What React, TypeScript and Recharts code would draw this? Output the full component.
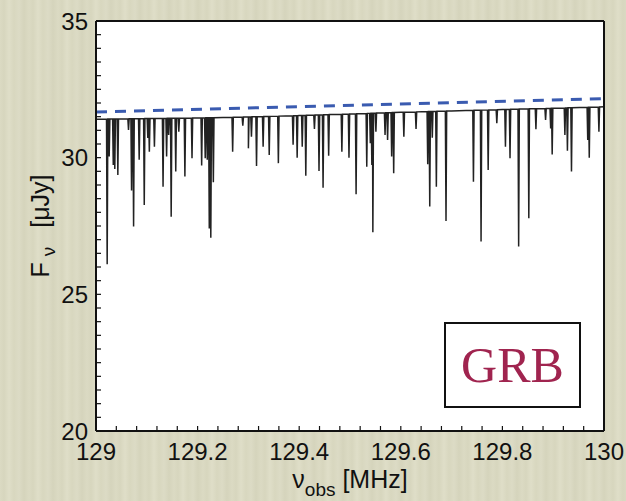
import { LineChart, Line, XAxis, YAxis, CartesianGrid, ReferenceLine } from 'recharts';

// continuum level of the spectrum (MHz, μJy)
const CONT_FREQ = [129, 129.1, 129.2, 129.3, 129.4, 129.5, 129.6, 129.7, 129.8, 129.9, 130];
const CONT_FLUX = [31.41, 31.43, 31.45, 31.49, 31.54, 31.6, 31.66, 31.71, 31.76, 31.81, 31.86];

// absorption line centres and the flux at the bottom of each dip
const LINE_FREQ = [
  129.022, 129.026, 129.034, 129.037, 129.043, 129.064, 129.07, 129.074, 129.085, 129.095,
  129.102, 129.105, 129.115, 129.132, 129.139, 129.143, 129.148, 129.157, 129.163, 129.175,
  129.189, 129.208, 129.215, 129.219, 129.223, 129.226, 129.231, 129.269, 129.289, 129.3,
  129.306, 129.316, 129.329, 129.341, 129.359, 129.388, 129.396, 129.406, 129.413, 129.43,
  129.439, 129.447, 129.458, 129.484, 129.498, 129.512, 129.533, 129.54, 129.543, 129.545,
  129.551, 129.569, 129.574, 129.582, 129.586, 129.606, 129.63, 129.653, 129.657, 129.662,
  129.67, 129.689, 129.743, 129.758, 129.772, 129.789, 129.806, 129.815, 129.832, 129.852,
  129.866, 129.885, 129.895, 129.898, 129.923, 129.928, 129.936, 129.968, 129.971, 129.99,
];
const LINE_FLUX = [
  26.1, 30.04, 29.73, 29.59, 29.37, 31.01, 28.8, 27.48, 29.92, 28.27,
  30.72, 30.22, 30.4, 28.94, 30.04, 30.83, 27.84, 29.49, 30.95, 29.31,
  29.98, 29.71, 29.98, 29.92, 27.41, 27.07, 29.1, 30.22, 31.17, 30.34,
  30.77, 29.7, 30.4, 30.1, 29.8, 30.47, 30.0, 30.4, 29.34, 31.05,
  29.51, 28.9, 30.07, 30.22, 30.0, 28.66, 29.67, 30.53, 29.73, 27.27,
  30.95, 30.83, 30.65, 30.04, 29.43, 30.77, 31.05, 29.76, 28.21, 30.73,
  28.94, 27.68, 29.12, 26.93, 29.55, 31.26, 30.4, 29.98, 26.75, 27.78,
  31.04, 31.38, 31.07, 30.12, 30.83, 30.25, 29.49, 30.65, 30.0, 30.95,
];

// unabsorbed model (dashed)
const MODEL_FREQ = [129, 130];
const MODEL_FLUX = [31.67, 32.16];

const X_TICKS = [
  129, 129.04, 129.08, 129.12, 129.16, 129.2, 129.24, 129.28, 129.32, 129.36, 129.4,
  129.44, 129.48, 129.52, 129.56, 129.6, 129.64, 129.68, 129.72, 129.76, 129.8,
  129.84, 129.88, 129.92, 129.96, 130,
];
const X_LABELS = ['129', '129.2', '129.4', '129.6', '129.8', '130'];
const Y_TICKS = [
  20, 20.5, 21, 21.5, 22, 22.5, 23, 23.5, 24, 24.5, 25, 25.5, 26, 26.5, 27, 27.5,
  28, 28.5, 29, 29.5, 30, 30.5, 31, 31.5, 32, 32.5, 33, 33.5, 34, 34.5, 35,
];
const Y_LABELS = ['20', '25', '30', '35'];

const HALF_WIDTH = 0.0013;
const FONT = '"Liberation Sans", Arial, Helvetica, sans-serif';

function continuumAt(f: number) {
  for (let i = 0; i < CONT_FREQ.length - 1; i++) {
    if (f <= CONT_FREQ[i + 1]) {
      const t = (f - CONT_FREQ[i]) / (CONT_FREQ[i + 1] - CONT_FREQ[i]);
      return CONT_FLUX[i] + t * (CONT_FLUX[i + 1] - CONT_FLUX[i]);
    }
  }
  return CONT_FLUX[CONT_FLUX.length - 1];
}

const spectrum = [
  ...CONT_FREQ.map((f, i) => ({ freq: f, flux: CONT_FLUX[i] })),
  ...LINE_FREQ.flatMap((f, i) => [
    { freq: f - HALF_WIDTH, flux: continuumAt(f - HALF_WIDTH) },
    { freq: f, flux: LINE_FLUX[i] },
    { freq: f + HALF_WIDTH, flux: continuumAt(f + HALF_WIDTH) },
  ]),
].sort((a, b) => a.freq - b.freq);

const fmtX = (v: number) => {
  const s = String(Number(v.toFixed(2)));
  return X_LABELS.includes(s) ? s : '';
};
const fmtY = (v: number) => {
  const s = String(Number(v.toFixed(1)));
  return Y_LABELS.includes(s) ? s : '';
};

function XTitle({ viewBox }: any) {
  const cx = viewBox.x + viewBox.width / 2;
  return (
    <text x={cx} y={viewBox.y + 57} textAnchor="middle" fontFamily={FONT} fontSize={25} fill="#111">
      ν<tspan dy={8} fontSize={19}>obs</tspan>
      <tspan dy={-8}> [MHz]</tspan>
    </text>
  );
}

function YTitle({ viewBox }: any) {
  const cy = viewBox.y + viewBox.height / 2;
  return (
    <text
      transform={`translate(${viewBox.x + viewBox.width - 47}, ${cy}) rotate(-90)`}
      textAnchor="middle"
      fontFamily={FONT}
      fontSize={25}
      fill="#111"
    >
      F<tspan dx={6} dy={6} fontSize={19}>ν</tspan>
      <tspan dx={12} dy={-6}> [μJy]</tspan>
    </text>
  );
}

const axisLine = { stroke: '#111', strokeWidth: 2 };
const tickLine = { stroke: '#111', strokeWidth: 1.2 };
const tickText = { fontSize: 24, fill: '#111', fontFamily: FONT };

export default function App() {
  return (
    <div
      style={{
        position: 'absolute',
        left: 0,
        top: 0,
        width: 626,
        height: 501,
        background:
          'repeating-linear-gradient(90deg, #dbdac3 0px, #d7d6be 4px, #dfdec8 9px, #d8d7bf 14px, #dcdbc5 19px, #d5d4bc 24px, #dbdac3 29px)',
      }}
    >
      <LineChart width={626} height={501} data={spectrum} margin={{ top: 20, right: 21, bottom: 10, left: 36 }}>
        <CartesianGrid horizontal={false} vertical={false} fill="#ffffff" />
        <XAxis
          xAxisId="b"
          dataKey="freq"
          type="number"
          domain={[129, 130]}
          allowDataOverflow
          ticks={X_TICKS}
          interval={0}
          tickFormatter={fmtX}
          height={60}
          tickSize={-5}
          tickMargin={17}
          axisLine={axisLine}
          tickLine={tickLine}
          tick={tickText}
          label={<XTitle />}
        />
        <XAxis
          xAxisId="t"
          orientation="top"
          dataKey="freq"
          type="number"
          domain={[129, 130]}
          allowDataOverflow
          ticks={X_TICKS}
          interval={0}
          height={1}
          tickSize={-5}
          axisLine={axisLine}
          tickLine={tickLine}
          tick={false}
        />
        <YAxis
          yAxisId="l"
          type="number"
          domain={[20, 35]}
          allowDataOverflow
          ticks={Y_TICKS}
          interval={0}
          tickFormatter={fmtY}
          width={60}
          tickSize={-5}
          tickMargin={13}
          axisLine={axisLine}
          tickLine={tickLine}
          tick={tickText}
          label={<YTitle />}
        />
        <YAxis
          yAxisId="r"
          orientation="right"
          type="number"
          domain={[20, 35]}
          allowDataOverflow
          ticks={Y_TICKS}
          interval={0}
          width={1}
          tickSize={-5}
          axisLine={axisLine}
          tickLine={tickLine}
          tick={false}
        />
        <Line
          xAxisId="b"
          yAxisId="l"
          dataKey="flux"
          type="linear"
          stroke="#222"
          strokeWidth={1.5}
          dot={false}
          isAnimationActive={false}
        />
        <Line
          xAxisId="t"
          yAxisId="r"
          dataKey="flux"
          stroke="none"
          dot={false}
          isAnimationActive={false}
        />
        <ReferenceLine
          xAxisId="b"
          yAxisId="l"
          segment={[
            { x: MODEL_FREQ[0], y: MODEL_FLUX[0] },
            { x: MODEL_FREQ[1], y: MODEL_FLUX[1] },
          ]}
          stroke="#3a5bb0"
          strokeWidth={3}
          strokeDasharray="11 8"
        />
      </LineChart>
      <div
        style={{
          position: 'absolute',
          left: 444,
          top: 322,
          width: 137,
          height: 86,
          boxSizing: 'border-box',
          border: '2px solid #111',
          background: '#fff',
          display: 'flex',
          alignItems: 'center',
          justifyContent: 'center',
          fontFamily: '"Liberation Serif", "Times New Roman", serif',
          fontSize: 50,
          color: '#a0244f',
        }}
      >
        GRB
      </div>
    </div>
  );
}
